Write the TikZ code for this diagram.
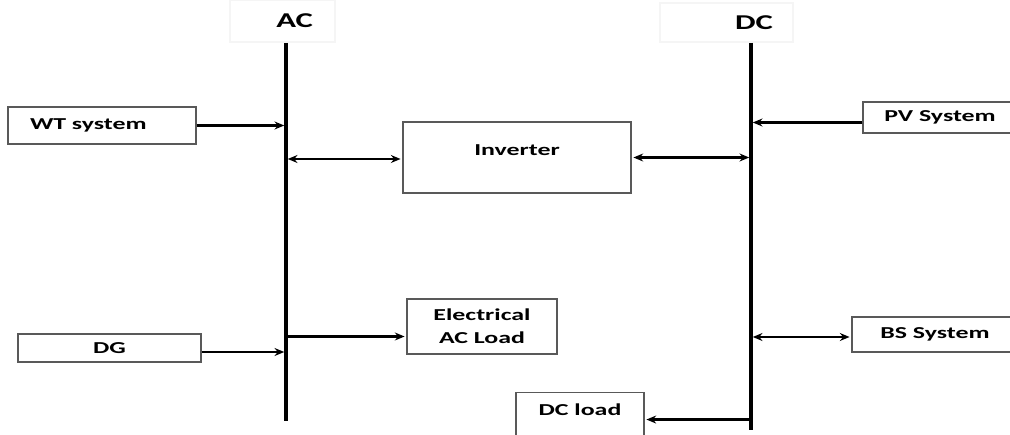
\documentclass[tikz,border=0pt]{standalone}
\usepackage{fontspec}
\setmainfont{Carlito}[FakeStretch=1.55]
\usetikzlibrary{positioning,arrows.meta,calc}
\tikzset{>={Stealth[length=5.5pt,width=4.5pt]},
blk/.style={rectangle,draw=black!65,line width=0.8pt,inner sep=1mm,
  font=\fontsize{9.5}{13}\selectfont\bfseries},
lab/.style={rectangle,draw=black!4,line width=0.6pt,inner ysep=0pt,
  font=\fontsize{12}{14}\selectfont\bfseries},
bus/.style={line width=1.8pt},
ln/.style={->,line width=1.6pt,shorten >=1pt},
lnb/.style={<->,line width=1.6pt,shorten >=1pt,shorten <=1pt},
}
\begin{document}
\begin{tikzpicture}[x=0.02cm,y=-0.02cm]
	\clip (0,0) rectangle (1010,435);

	% bus labels
	\node[lab,minimum height=0.84cm,text width=1.22cm,inner xsep=0.44cm,align=right] (aclab) at (282.5,21) {AC};
	\node[lab,minimum height=0.78cm,text width=1.86cm,inner xsep=0.4cm,align=right] (dclab) at (726.5,22.5) {DC};

	% buses
	\coordinate (acTop) at (286,43);
	\coordinate (acBot) at (286,421);
	\coordinate (dcTop) at (751,43);
	\coordinate (dcBot) at (751,430);
	\draw[bus] (acTop) -- (acBot);
	\draw[bus] (dcTop) -- (dcBot);

	% blocks
	\node[blk,minimum height=0.74cm,text width=2.88cm,inner xsep=0.44cm,align=left] (wt) at (102,125.5) {WT system};
	\node[blk,minimum width=4.56cm,minimum height=1.42cm,text depth=0.28cm] (inv) at (517,157.5) {Inverter};
	\node[blk,minimum width=3.08cm,minimum height=0.62cm] (pv) at (940,117.5) {PV System};
	\node[blk,minimum width=3.0cm,minimum height=1.1cm,align=center] (el) at (482,326.5) {Electrical\\AC Load};
	\node[blk,minimum width=3.66cm,minimum height=0.56cm] (dg) at (109.5,348) {DG};
	\node[blk,minimum width=3.32cm,minimum height=0.7cm] (bs) at (935,334.5) {BS System};
	\node[blk,minimum width=2.56cm,anchor=north,inner ysep=0.22cm,text depth=0.4cm] (dcl) at (580,392) {DC load};

	% connections
	\draw[ln] (wt.east) -- (wt.east -| acTop);
	\draw[lnb] ([yshift=-0.03cm]inv.west -| acTop) -- ([yshift=-0.03cm]inv.west);
	\draw[lnb] (inv.east) -- (inv.east -| dcTop);
	\draw[ln] ([yshift=-0.1cm]pv.west) -- ([yshift=-0.1cm]pv.west -| dcTop);
	\draw[ln] ([yshift=-0.2cm]el.west -| acTop) -- ([yshift=-0.2cm]el.west);
	\draw[ln] ([yshift=-0.08cm]dg.east) -- ([yshift=-0.08cm]dg.east -| acTop);
	\draw[lnb] ([yshift=-0.05cm]bs.west -| dcTop) -- ([yshift=-0.05cm]bs.west);
	\draw[ln] (dcl.east -| dcBot) -- (dcl.east);
\end{tikzpicture}
\end{document}
